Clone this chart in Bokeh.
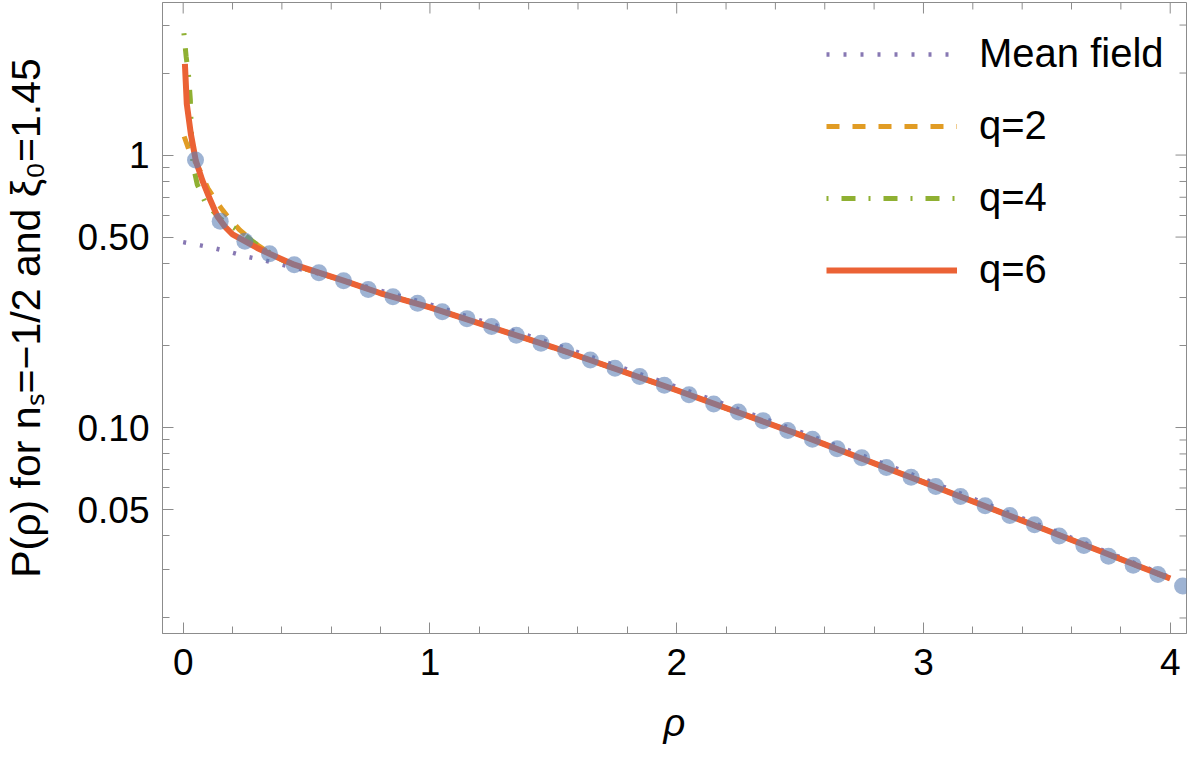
import math
from bokeh.plotting import figure
from bokeh.models import (Range1d, FixedTicker, Legend, LegendItem, ColumnDataSource)
from bokeh.embed import file_html
from bokeh.resources import INLINE

# ---------------- data ----------------
rho_pts = [0.05, 0.15, 0.25, 0.35, 0.45, 0.55, 0.65, 0.75, 0.85, 0.95,
           1.05, 1.15, 1.25, 1.35, 1.45, 1.55, 1.65, 1.75, 1.85, 1.95,
           2.05, 2.15, 2.25, 2.35, 2.45, 2.55, 2.65, 2.75, 2.85, 2.95,
           3.05, 3.15, 3.25, 3.35, 3.45, 3.55, 3.65, 3.75, 3.85, 3.95, 4.05]
p_pts = [0.960, 0.572, 0.483, 0.434, 0.396, 0.370, 0.346, 0.321, 0.302, 0.286,
         0.266, 0.251, 0.235, 0.218, 0.204, 0.191, 0.177, 0.165, 0.154, 0.143,
         0.132, 0.122, 0.114, 0.106, 0.0975, 0.0906, 0.0835, 0.0774, 0.0713, 0.0657,
         0.0608, 0.0558, 0.0516, 0.0475, 0.0440, 0.0400, 0.0369, 0.0337, 0.0312, 0.0289, 0.0262]

rho_mf = [0.0, 0.07, 0.135, 0.2, 0.267, 0.333, 0.4, 0.463, 0.6, 0.8, 1.0, 1.5, 2.0, 2.5, 3.0, 3.5, 4.0]
p_mf = [0.479, 0.466, 0.453, 0.438, 0.422, 0.410, 0.396, 0.384, 0.358, 0.318, 0.283, 0.203, 0.141, 0.0965, 0.0648, 0.0428, 0.0282]

rho_q2 = [0.004, 0.024, 0.05, 0.07, 0.1, 0.13, 0.16, 0.19, 0.23, 0.3, 0.35, 0.4, 0.5,
          0.65, 0.8, 1.0, 1.5, 2.0, 2.5, 3.0, 3.5, 4.0]
p_q2 = [1.17, 1.04, 0.94, 0.87, 0.755, 0.685, 0.628, 0.58, 0.53, 0.468, 0.437, 0.413, 0.381,
        0.346, 0.311, 0.276, 0.197, 0.137, 0.094, 0.063, 0.042, 0.0279]

rho_q4 = [0.003, 0.012, 0.022, 0.029, 0.032, 0.035, 0.04, 0.057, 0.092, 0.15, 0.2, 0.24, 0.3,
          0.4, 0.5, 0.65, 0.8, 1.0, 1.5, 2.0, 2.5, 3.0, 3.5, 4.0]
p_q4 = [2.8, 2.3, 1.95, 1.6, 1.3, 1.08, 0.92, 0.78, 0.662, 0.585, 0.545, 0.518, 0.468,
        0.412, 0.381, 0.346, 0.311, 0.276, 0.197, 0.137, 0.094, 0.063, 0.042, 0.0279]

rho_q6 = [0.007, 0.0146, 0.031, 0.051, 0.078, 0.105, 0.139, 0.17, 0.2, 0.25, 0.3, 0.35, 0.45,
          0.55, 0.65, 0.8, 1.0, 1.5, 2.0, 2.5, 3.0, 3.5, 4.0]
p_q6 = [2.16, 1.54, 1.196, 0.955, 0.806, 0.70, 0.595, 0.545, 0.512, 0.483, 0.456, 0.434, 0.396,
        0.370, 0.346, 0.311, 0.276, 0.197, 0.137, 0.094, 0.063, 0.042, 0.0279]

series_labels = ["Mean field", "q=2", "q=4", "q=6"]
x_ticks = [0, 1, 2, 3, 4]
x_minor_ticks = [0.2, 0.4, 0.6, 0.8, 1.2, 1.4, 1.6, 1.8, 2.2, 2.4, 2.6, 2.8,
                 3.2, 3.4, 3.6, 3.8]
y_ticks = [0.05, 0.1, 0.5, 1.0]
y_tick_labels = ["0.05", "0.10", "0.50", "1"]
y_minor_ticks = [0.02, 0.03, 0.04, 0.06, 0.07, 0.08, 0.09, 0.2, 0.3, 0.4,
                 0.6, 0.7, 0.8, 0.9, 2.0, 3.0]
x_label = "ρ"
y_label = "P(ρ) for nₛ=−1/2 and ξ₀=1.45"

# ---------------- styling ----------------
FONT = "Liberation Sans"
FRAME = "#8c8c8c"
C_MF, C_Q2, C_Q4, C_Q6, C_PTS = "#8778B3", "#E19C24", "#8FB032", "#EB6235", "#5E81B5"
X_LO, X_HI = -0.0838, 4.066
Y_LO, Y_HI = 0.01754, 3.63

p = figure(width=1196, height=764,
           x_range=Range1d(X_LO, X_HI), y_range=Range1d(Y_LO, Y_HI),
           y_axis_type="log", output_backend="svg", toolbar_location=None,
           min_border_left=161, min_border_right=10, min_border_top=2, min_border_bottom=131)
p.grid.visible = False
p.outline_line_color = FRAME
p.outline_line_width = 1
p.background_fill_color = "white"
p.border_fill_color = "white"

xticker = FixedTicker(ticks=x_ticks, minor_ticks=x_minor_ticks)
yticker = FixedTicker(ticks=y_ticks, minor_ticks=y_minor_ticks)


def style_axis(ax):
    ax.axis_line_color = FRAME
    ax.axis_line_width = 1
    ax.major_tick_line_color = FRAME
    ax.minor_tick_line_color = FRAME
    ax.major_tick_in = 11
    ax.major_tick_out = 0
    ax.minor_tick_in = 7
    ax.minor_tick_out = 0
    ax.major_label_text_font = FONT
    ax.major_label_text_color = "black"
    ax.axis_label_text_font = FONT
    ax.axis_label_text_color = "black"


xa = p.xaxis[0]
xa.ticker = xticker
style_axis(xa)
xa.major_label_text_font_size = "37px"
xa.major_label_standoff = 15
xa.axis_label = x_label
xa.axis_label_text_font_size = "38px"
xa.axis_label_text_font_style = "italic"
xa.axis_label_standoff = 24

ya = p.yaxis[0]
ya.ticker = yticker
style_axis(ya)
ya.major_label_text_font_size = "37px"
ya.major_label_standoff = 13
ya.major_label_overrides = dict(zip(y_ticks, y_tick_labels))
ya.axis_label = y_label
ya.axis_label_text_font_size = "41px"
ya.axis_label_text_font_style = "normal"
ya.axis_label_standoff = 25

# mirrored ticks on top and right edges of the frame (screen-length rays)
p.ray(x=x_ticks, y=[Y_HI] * len(x_ticks), length=11, length_units="screen",
      angle=-math.pi / 2, line_color=FRAME, line_width=1)
p.ray(x=x_minor_ticks, y=[Y_HI] * len(x_minor_ticks), length=7, length_units="screen",
      angle=-math.pi / 2, line_color=FRAME, line_width=1)
p.ray(x=[X_HI] * len(y_ticks), y=y_ticks, length=11, length_units="screen",
      angle=math.pi, line_color=FRAME, line_width=1)
p.ray(x=[X_HI] * len(y_minor_ticks), y=y_minor_ticks, length=7, length_units="screen",
      angle=math.pi, line_color=FRAME, line_width=1)

# ---------------- glyphs ----------------
r_mf = p.line(rho_mf, p_mf, line_color=C_MF, line_width=4.5, line_dash="3 14")
r_q2 = p.line(rho_q2, p_q2, line_color=C_Q2, line_width=5, line_dash="13 13")
r_q4 = p.line(rho_q4, p_q4, line_color=C_Q4, line_width=5, line_dash="2 13 14 13")
r_q6 = p.line(rho_q6, p_q6, line_color=C_Q6, line_width=6)
src = ColumnDataSource(dict(x=rho_pts, y=p_pts))
p.scatter("x", "y", source=src, size=17, fill_color=C_PTS, fill_alpha=0.6, line_color=None)

legend = Legend(items=[LegendItem(label=series_labels[0], renderers=[r_mf]),
                       LegendItem(label=series_labels[1], renderers=[r_q2]),
                       LegendItem(label=series_labels[2], renderers=[r_q4]),
                       LegendItem(label=series_labels[3], renderers=[r_q6])],
                location=(664, 341))
legend.label_text_font = FONT
legend.label_text_font_size = "40px"
legend.label_text_color = "black"
legend.glyph_width = 131
legend.glyph_height = 44
legend.label_height = 44
legend.label_standoff = 22
legend.spacing = 27
legend.padding = 17
legend.margin = 0
legend.border_line_color = None
legend.background_fill_alpha = 0
p.add_layout(legend)

open("out.html", "w").write(file_html(p, INLINE))
